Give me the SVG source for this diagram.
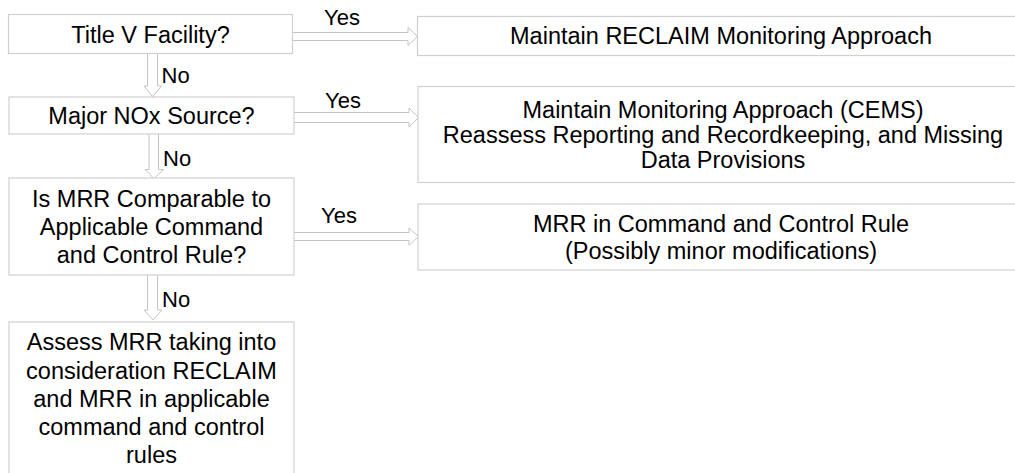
<svg xmlns="http://www.w3.org/2000/svg" width="1015" height="473" viewBox="0 0 1015 473">
  <style>
    .box { fill: #ffffff; stroke: #d0d0d0; stroke-width: 1.2; }
    .arrow { fill: #ffffff; stroke: #c4c4c4; stroke-width: 1; }
    .t { font-family: "Liberation Sans", Arial, sans-serif; font-size: 23.5px; fill: #000000; text-anchor: middle; }
    .lbl { font-family: "Liberation Sans", Arial, sans-serif; font-size: 22px; fill: #000000; }
  </style>
  <rect width="1015" height="473" fill="#ffffff"/>

  <g id="connectors">
    <path class="arrow" d="M292.5,32.5 H408 V27.5 L417.5,36.5 L408,45.5 V40.5 H292.5"/>
    <path class="arrow" d="M294,112.5 H409 V108 L418.5,117.5 L409,127 V122.5 H294"/>
    <path class="arrow" d="M294,232.5 H409 V228 L418.5,236.5 L409,245.5 V240.5 H294"/>
    <path class="arrow" d="M147.5,53.5 V86 H144 L152.5,96.5 L161.5,86 H157.5 V53.5"/>
    <path class="arrow" d="M149,134 V169.5 H145 L154,178.5 L163.5,169.5 H158.5 V134"/>
    <path class="arrow" d="M147.5,275 V310 H144 L153,320 L162,310 H157.5 V275"/>
    <text class="lbl" x="324" y="25">Yes</text>
    <text class="lbl" x="325" y="107.5">Yes</text>
    <text class="lbl" x="321" y="222.5">Yes</text>
    <text class="lbl" x="161.5" y="82.5">No</text>
    <text class="lbl" x="163" y="165.5">No</text>
    <text class="lbl" x="162" y="306.5">No</text>
  </g>

  <g id="n-title-v">
    <rect class="box" x="8.5" y="14.5" width="284" height="39"/>
    <text class="t" x="150.5" y="42.5">Title V Facility?</text>
  </g>
  <g id="n-major-nox">
    <rect class="box" x="9" y="97" width="285" height="37"/>
    <text class="t" x="151.5" y="123.5">Major NOx Source?</text>
  </g>
  <g id="n-mrr-comparable">
    <rect class="box" x="9" y="178" width="285" height="97"/>
    <text class="t" x="151.5" y="206.5">Is MRR Comparable to</text>
    <text class="t" x="151.5" y="234.5">Applicable Command</text>
    <text class="t" x="151.5" y="262.5">and Control Rule?</text>
  </g>
  <g id="n-assess-mrr">
    <rect class="box" x="9" y="322" width="285" height="170"/>
    <text class="t" x="151.5" y="350">Assess MRR taking into</text>
    <text class="t" x="151.5" y="378.5">consideration RECLAIM</text>
    <text class="t" x="151.5" y="406.5">and MRR in applicable</text>
    <text class="t" x="151.5" y="435">command and control</text>
    <text class="t" x="151.5" y="463">rules</text>
  </g>
  <g id="n-maintain-reclaim">
    <rect class="box" x="417.5" y="16.5" width="612" height="39"/>
    <text class="t" x="721" y="44">Maintain RECLAIM Monitoring Approach</text>
  </g>
  <g id="n-maintain-cems">
    <rect class="box" x="418" y="86.5" width="612" height="96"/>
    <text class="t" x="723" y="118">Maintain Monitoring Approach (CEMS)</text>
    <text class="t" x="723" y="143">Reassess Reporting and Recordkeeping, and Missing</text>
    <text class="t" x="723" y="167.5">Data Provisions</text>
  </g>
  <g id="n-mrr-command">
    <rect class="box" x="418" y="204" width="612" height="66"/>
    <text class="t" x="721" y="232">MRR in Command and Control Rule</text>
    <text class="t" x="721" y="259">(Possibly minor modifications)</text>
  </g>
</svg>
